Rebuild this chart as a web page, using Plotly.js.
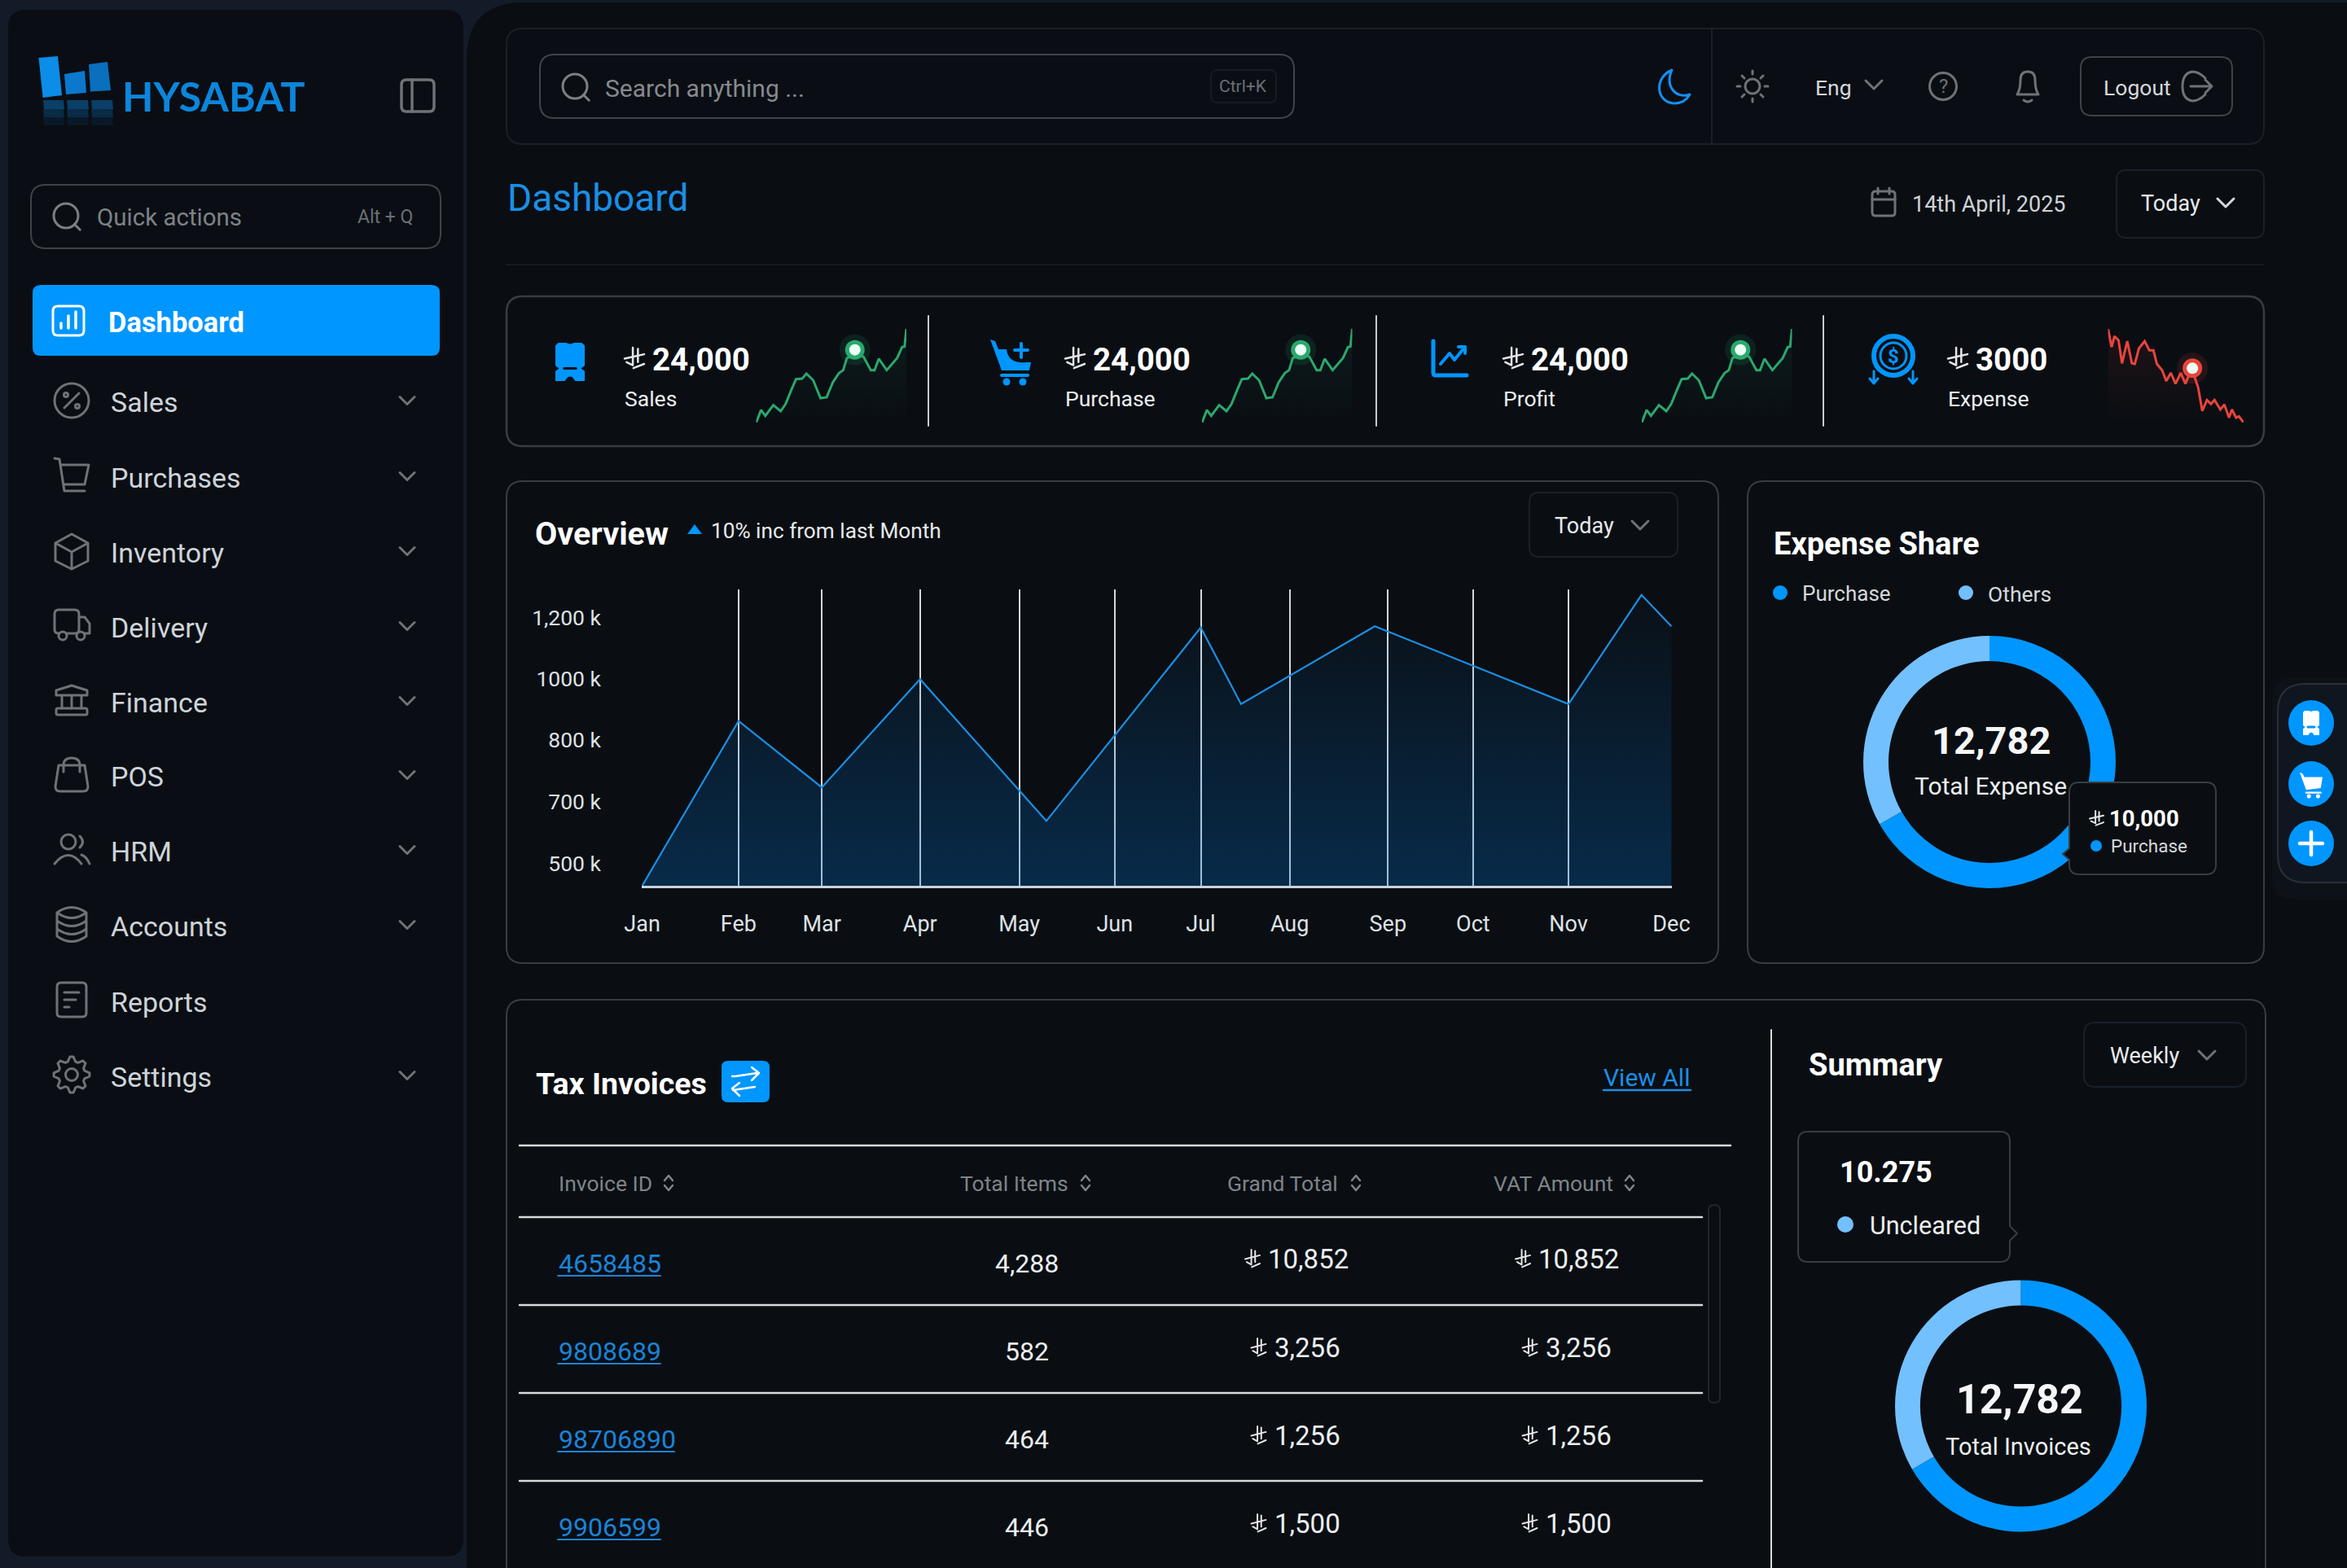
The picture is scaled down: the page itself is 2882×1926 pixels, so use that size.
<!DOCTYPE html>
<html><head><meta charset="utf-8"><title>HYSABAT Dashboard</title>
<script src="https://cdn.plot.ly/plotly-3.0.1.min.js"></script>
<style>html,body{margin:0;padding:0;background:#141b28;overflow:hidden}#c{width:2882px;height:1926px}
.shapelayer path{stroke-linecap:round;stroke-linejoin:round}</style></head>
<body><div id="c"></div>
<script>
// ---------- DATA ----------
const months = ['Jan','Feb','Mar','Apr','May','Jun','Jul','Aug','Sep','Oct','Nov','Dec'];
const monthPositions = [0,1.03,1.92,2.97,4.03,5.05,5.97,6.92,7.97,8.88,9.90,11];
const overviewX = [0,1.03,1.92,2.97,4.32,5.97,6.40,7.83,9.90,10.68,11];
const overviewY = [0,2.68,1.60,3.36,1.055,4.20,2.955,4.22,2.955,4.73,4.22];
const yTickLevels = [0.36,1.37,2.37,3.37,4.36];
const yTickLabels = ['500 k','700 k','800 k','1000 k','1,200 k'];
const greenSparkX = [0,8,15,28,40,48,57,65,75,82,93,105,115,125,135,142,148,155,165,175,187,193,200,213,230,238,242,245];
const greenSparkY = [0,46,25,64,42,68,118,160,162,180,156,90,93,148,182,193,238,243,248,243,193,193,235,193,238,278,280,345];
const greenMarkerX = [161];
const greenMarkerY = [268];
const redSparkX = [0,6,11,18,24,33,41,46,53,63,71,78,84,93,100,108,116,125,133,140,148,155,162,170,177,183,193,200,208,213,220,225,233];
const redSparkY = [345,278,318,303,218,300,218,216,273,300,266,266,216,193,153,183,143,183,143,180,173,128,43,83,68,83,48,66,18,48,18,23,0];
const redMarkerX = [145];
const redMarkerY = [200];
const shareLabels = ['Purchase','Others'];
const shareValues = [66.8,33.2];
const summaryLabels = ['Cleared','Uncleared'];
const summaryValues = [66.6,33.4];
const kpiNames = ['Sales','Purchase','Profit','Expense'];
const kpiValues = ['24,000','24,000','24,000','3000'];
const menuItems = ['Sales','Purchases','Inventory','Delivery','Finance','POS','HRM','Accounts','Reports','Settings'];
const invoiceIds = ['4658485','9808689','98706890','9906599'];
const totalItems = ['4,288','582','464','446'];
const grandTotals = ['10,852','3,256','1,256','1,500'];
const vatAmounts = ['10,852','3,256','1,256','1,500'];
const tableHeads = ['Invoice ID','Total Items','Grand Total','VAT Amount'];

// ---------- HELPERS ----------
const W=2882,H=1926,FONT='Roboto, sans-serif';
const BLUE='#0096ff',LIGHT='#73c0ff',BG='#0a0e13',EDGE='#383d43',SOFT='#1a2028',ICON='#6e7378';
const shapes=[],anns=[];
function P(d,o={}){shapes.push({type:'path',path:d,xref:'x',yref:'y',layer:o.above?'above':'below',
  line:{color:o.stroke||'rgba(0,0,0,0)',width:o.stroke?(o.sw||3):0},fillcolor:o.fill||'rgba(0,0,0,0)'});}
function rr(a,b,c,d,r){return `M${a+r},${b}L${c-r},${b}Q${c},${b} ${c},${b+r}L${c},${d-r}Q${c},${d} ${c-r},${d}L${a+r},${d}Q${a},${d} ${a},${d-r}L${a},${b+r}Q${a},${b} ${a+r},${b}Z`;}
function R(a,b,c,d,r,o){P(rr(a,b,c,d,r),o);}
function C(x,y,r,o={}){shapes.push({type:'circle',xref:'x',yref:'y',x0:x-r,x1:x+r,y0:y-r,y1:y+r,layer:o.above?'above':'below',
  line:{color:o.stroke||'rgba(0,0,0,0)',width:o.stroke?(o.sw||3):0},fillcolor:o.fill||'rgba(0,0,0,0)'});}
function T(x,y,s,size,color,o={}){anns.push({x,y,xref:'x',yref:'y',text:s,showarrow:false,xanchor:o.a||'left',yanchor:'middle',
  font:{family:o.f||FONT,size,color,weight:o.w||400},borderpad:0,align:'left'});}
function chev(x,y,s,color,sw){P(`M${x-s},${y-s*0.5}L${x},${y+s*0.5}L${x+s},${y-s*0.5}`,{stroke:color||ICON,sw:sw||3});}
function riyal(x,y,w,h,color,sw,above){ // y = glyph top
  const px=f=>x+f*w,py=f=>y+f*h,o={stroke:color,sw:sw,above};
  P(`M${px(.42)},${py(0)}L${px(.42)},${py(.8)}L${px(.1)},${py(.66)}`,o);
  P(`M${px(.68)},${py(.06)}L${px(.68)},${py(.66)}`,o);
  P(`M${px(0)},${py(.5)}L${px(1)},${py(.3)}`,o);
  P(`M${px(.45)},${py(.93)}L${px(1)},${py(.74)}`,o);
}
function search(x,y,r){C(x,y,r,{stroke:'#7b8085',sw:3});P(`M${x+r*.7},${y+r*.7}L${x+r*1.15},${y+r*1.15}`,{stroke:'#7b8085',sw:3});}
function receipt(a,b,c,d,color,above,dark){
  const w=c-a,h=d-b,m=b+h*.66;
  P(`M${a+w*.1},${b}L${a+w*.36},${b}L${a+w*.5},${b+h*.035}L${a+w*.64},${b}L${a+w*.9},${b}L${c},${b+h*.07}L${c},${m-h*.06}L${c-w*.13},${m+h*.01}L${c},${m+h*.08}L${c},${d}L${a+w*.68},${d}L${a+w*.56},${d-h*.11}L${a+w*.44},${d-h*.11}L${a+w*.32},${d}L${a},${d}L${a},${m+h*.08}L${a+w*.13},${m+h*.01}L${a},${m-h*.06}L${a},${b+h*.07}Z`,{fill:color,above});
  P(`M${a+w*.3},${m+h*.01}L${a+w*.7},${m+h*.01}`,{stroke:dark,sw:3,above});
}
function cartFill(x,y,s,c,above,plus){ // box 50x52 scaled
  const q=(u,v)=>`${x+u*s},${y+v*s}`;
  if(plus){P(`M${q(0,0)}L${q(6,2)}L${q(10,12)}L${q(20,12)}Q${q(22,30)} ${q(44,28)}L${q(50,28)}L${q(48,38)}L${q(14,38)}Z`,{fill:c,above});
    P(`M${q(38,5)}L${q(38,22)}M${q(30,13)}L${q(46,13)}`,{stroke:c,sw:4*s,above});}
  else P(`M${q(0,0)}L${q(6,2)}L${q(10,10)}L${q(50,10)}L${q(46,34)}L${q(14,38)}Z`,{fill:c,above});
  P(`M${q(14,44)}L${q(46,44)}`,{stroke:c,sw:4*s,above});
  C(x+20*s,y+52*s,4.5*s,{fill:c,above});C(x+40*s,y+52*s,4.5*s,{fill:c,above});
}

// ---------- PAGE CHROME ----------
P(rr(573,3,3000,2100,70),{fill:BG});
R(10,12,569,1912,22,{fill:'#0a0e14'});

// logo
[[[47.5,71],[71,69],[76,117],[52.6,120],'#0b8de8'],[[79,91],[104,87],[106,114],[81,116],'#0a78cc'],[[109,79],[132,76],[136,111],[111,112.5],'#0a6fbc']]
 .forEach(b=>P(`M${b[0]}L${b[1]}L${b[2]}L${b[3]}Z`,{fill:b[4]}));
[[53,78],[82,108],[112,138]].forEach(b=>{[[123,134,.42],[134,144,.25],[144,154,.1]].forEach(s=>{
  P(`M${b[0]},${s[0]}L${b[1]},${s[0]}L${b[1]+1},${s[1]}L${b[0]+1},${s[1]}Z`,{fill:`rgba(11,130,220,${s[2]})`});});});
T(149,118,'HYSABAT',50,'#0b86dc',{w:700,f:'Lato, Roboto, sans-serif'});
R(493,98,533,137,6,{stroke:ICON,sw:3.5});P('M506,98L506,137',{stroke:ICON,sw:3.5});

// quick actions
R(38,227,541,305,18,{stroke:'#3f4348',sw:2});search(81,265,15);
T(118,267,'Quick actions',29.5,'#7d8287');T(508,266,'Alt + Q',23,'#6b7075',{a:'right'});

// nav
R(40,350,540,437,10,{fill:BLUE});
R(65,376,103,412,6,{stroke:'#fff',sw:3});
P('M75,403L75,397M84,403L84,388M93,403L93,383',{stroke:'#fff',sw:3.5});
T(132,396,'Dashboard',34.5,'#fff',{w:700});
const navY=[494,587,679,771,863,954,1046,1138,1231,1323];
menuItems.forEach((m,i)=>{T(135,navY[i],m,34,'#cfd4d9');if(m!=='Reports')chev(500,navY[i]-2,9);});
const IC={stroke:ICON,sw:3};
C(88,492,21,IC);P('M79,501L97,483',IC);C(81,485,2.5,IC);C(95,499,2.5,IC);
P('M67,563L73,564L79,603L104,603M75,571L109,571L104,595L78,595',IC);
P('M88,656L108,667L108,689L88,699L68,689L68,667ZM68,667L88,678L108,667M88,678L88,699',IC);
R(67,749,97,778,5,IC);P('M97,758L104,758L110,766L110,778L97,778',IC);C(77,781,5,{stroke:ICON,sw:3,fill:BG});C(99,781,5,{stroke:ICON,sw:3,fill:BG});
P('M69,848L88,842L107,848L107,854L69,854ZM76,854L76,870M88,854L88,870M100,854L100,870',IC);R(69,870,107,878,2,IC);
P('M72,940L104,940L108,966Q108,972 102,972L74,972Q68,972 68,966ZM78,940Q78,931 88,931Q98,931 98,940L98,948M78,940L78,948',IC);
C(84,1034,9,IC);P('M98,1027Q105,1034 98,1041M67,1061Q84,1040 100,1061M100,1050Q106,1052 110,1061',IC);
P('M70,1121Q88,1108 106,1121L106,1150Q88,1163 70,1150ZM70,1121Q88,1134 106,1121M70,1131Q88,1144 106,1131M70,1141Q88,1154 106,1141',IC);
R(70,1207,106,1249,5,IC);P('M79,1219L97,1219M79,1228L93,1228M79,1237L85,1237',IC);
(function(){const cx=88,cy=1320;let d='';const n=8;for(let i=0;i<n*4;i++){const a=i/(n*4)*2*Math.PI;const r=(i%4===0||i%4===1)?22:16.5;
  d+=(i?'L':'M')+(cx+r*Math.cos(a-.1))+','+(cy+r*Math.sin(a-.1));}P(d+'Z',IC);C(cx,cy,7.5,IC);})();

// top bar
R(622,35,2780,177,20,{fill:'#0a0e14',stroke:SOFT,sw:2});P('M2102,35L2102,177',{stroke:SOFT,sw:2});
R(663,67,1589,145,18,{stroke:'#40454b',sw:2});search(706,106,15);
T(742,108,'Search anything ...',30,'#85898e');
R(1487,86,1567,126,8,{stroke:'#161b22',sw:2});T(1526,106,'Ctrl+K',21,'#6b7075',{a:'middle'});
P('M2053,86C2030,96 2034,126 2056,127C2064,127 2071,123 2075,116C2058,122 2044,106 2053,86Z',{stroke:'#158ff0',sw:3});
C(2152,106,9,{stroke:ICON,sw:3});
P('M2152,87L2152,91M2152,121L2152,125M2133,106L2137,106M2167,106L2171,106M2139,93L2142,96M2162,116L2165,119M2139,119L2142,116M2162,96L2165,93',IC);
T(2228,107,'Eng',26.5,'#d5d8db');chev(2301,104,10);
C(2386,106,16.5,IC);T(2386,106,'?',24,ICON,{a:'middle'});
P('M2477,116Q2481,110 2481,98Q2481,88 2490,88Q2499,88 2499,98Q2499,110 2503,116ZM2485,123Q2490,127 2495,123',IC);
R(2555,70,2741,142,14,{stroke:'#3f4348',sw:2});T(2582,107,'Logout',26.5,'#d5d8db');
P('M2708,96Q2700,88 2692,88Q2680,90 2680,106Q2680,122 2692,124Q2700,124 2708,116M2690,106L2716,106M2708,98L2716,106L2708,114',IC);

// dashboard header
T(622,243,'Dashboard',46,'#1a8fe6',{w:400});
R(2299,235,2327,265,4,IC);P('M2299,245L2327,245M2306,231L2306,238M2320,231L2320,238',IC);
T(2347,251,'14th April, 2025',27,'#cfd2d5');
R(2599,209,2780,292,12,{stroke:SOFT,sw:2});T(2628,250,'Today',27,'#e8eaec');chev(2733,249,10,'#d5d8db');
P('M622,325L2780,325',{stroke:'#151b22',sw:2});

// KPI strip
R(622,364,2780,548,20,{stroke:EDGE,sw:2.5});
[1140,1690,2239].forEach(x=>P(`M${x},388L${x},523`,{stroke:'#c8ccd0',sw:2}));
const kpiIconX=[767,1308,1846,2392],kpiNumX=[800,1341,1879,2425];
kpiNames.forEach((n,i)=>{riyal(kpiIconX[i],427,24,27,'#e4e6e8',2.5);T(kpiNumX[i],441,kpiValues[i],38.5,'#fff',{w:700});T(kpiIconX[i]-1,489,n,26.5,'#eceef0');});
receipt(682,421,718,468,BLUE,false,BG);
cartFill(1216,417,1.0,BLUE,false,true);
P('M1760,419L1760,458Q1760,461 1763,461L1801,461',{stroke:BLUE,sw:5});
P('M1769,447L1780,434L1786,442L1799,426M1791,426L1799,426L1799,434',{stroke:BLUE,sw:4});
C(2325,437,24,{stroke:BLUE,sw:6});C(2325,437,16,{stroke:BLUE,sw:3});T(2325,438,'$',24,BLUE,{a:'middle',w:700});
P('M2301,456L2301,471M2296,465L2301,471L2306,465M2349,456L2349,471M2344,465L2349,471L2354,465',{stroke:BLUE,sw:3});

// overview card
R(622,591,2110,1183,20,{stroke:EDGE,sw:2});
T(656,655,'Overview',39.5,'#fff',{w:700});
P('M853,644L862,656L844,656Z',{fill:BLUE});
T(872,652,'10% inc from last Month',26.2,'#e8eaec');
R(1878,605,2060,684,12,{stroke:SOFT,sw:2});T(1908,646,'Today',27,'#e8eaec');chev(2014,645,10);

// expense share card
R(2146,591,2780,1183,20,{stroke:EDGE,sw:2});
T(2177,668,'Expense Share',38,'#fff',{w:700});
C(2186,728,9,{fill:BLUE});T(2212,729,'Purchase',26,'#d5d8db');
C(2414,728,9,{fill:LIGHT});T(2440,729,'Others',26.5,'#d5d8db');
T(2445,909,'12,782',47,'#f5f6f7',{a:'middle',w:700});
T(2444,965,'Total Expense',30,'#eceef0',{a:'middle'});
P('M2553,961L2709,961Q2721,961 2721,973L2721,1062Q2721,1074 2709,1074L2553,1074Q2541,1074 2541,1062L2541,1056L2533,1049L2541,1042L2541,973Q2541,961 2553,961Z',{fill:'#0a0e13',stroke:EDGE,sw:2,above:true});
riyal(2566,996,17,19,'#e4e6e8',2,true);T(2589,1005,'10,000',27.5,'#fff',{w:700});
C(2574,1039,7,{fill:BLUE,above:true});T(2591,1039,'Purchase',22.5,'#d5d8db');

// floating widget
[[2785,826,32,.015],[2790,832,28,.025]].forEach(s=>R(s[0],s[1],2960,1105,s[2],{fill:`rgba(120,150,190,${s[3]})`}));
R(2797,840,2960,1084,34,{fill:'#10161f',stroke:'#2a3038',sw:2});
[888,963,1036].forEach(y=>C(2838,y,28,{fill:BLUE}));
receipt(2828,873,2848,903,'#fff',false,BLUE);
cartFill(2824,949,.56,'#fff',false,false);
P('M2838,1022L2838,1050M2824,1036L2852,1036',{stroke:'#fff',sw:4.5});

// bottom card
R(622,1228,2782,2000,20,{stroke:EDGE,sw:2});
T(657,1331,'Tax Invoices',37.5,'#fff',{w:700});
R(886,1303,945,1354,8,{fill:BLUE});
P('M930,1318L903,1322L899,1322M923,1311L932,1318L923,1327M900,1339L927,1335M908,1330L899,1337L908,1346',{stroke:'#fff',sw:2.5});
T(1968,1323,'View All',30,'#1a8fe6');P('M1969,1339L2076,1339',{stroke:'#1a8fe6',sw:2.5});
P('M638,1407L2125,1407',{stroke:'#d8dadc',sw:2.5});
[1495,1603,1711,1819].forEach(y=>P(`M638,${y}L2090,${y}`,{stroke:'#d8dadc',sw:2.5}));
const headX=[685,1178,1506,1833],sortX=[821,1333,1665,2001];
tableHeads.forEach((h,i)=>{T(headX[i],1453,h,26.5,'#7f8489');
  P(`M${sortX[i]-5},1450L${sortX[i]},1444L${sortX[i]+5},1450`,{stroke:'#7f8489',sw:2.5});
  P(`M${sortX[i]-5},1456L${sortX[i]},1462L${sortX[i]+5},1456`,{stroke:'#7f8489',sw:2.5});});
R(2098,1480,2112,1723,7,{stroke:'#20262d',sw:2});
const rowY=[1552,1660,1768,1876],amtY=[1546,1655,1763,1871];
invoiceIds.forEach((id,i)=>{const u=rowY[i]+15;
  T(685,rowY[i],id,32,'#1a84d8');P(`M685,${u}L${685+(id.length>7?143:126)},${u}`,{stroke:'#1a84d8',sw:2});
  T(1261,rowY[i],totalItems[i],32,'#eceef0',{a:'middle'});
  const wide=grandTotals[i].length>5,g=wide?1529:1536.5,v=wide?1861:1869.5;
  riyal(g,amtY[i]-11,18,23,'#e4e6e8',2);T(g+27,amtY[i],grandTotals[i],33,'#eceef0');
  riyal(v,amtY[i]-11,18,23,'#e4e6e8',2);T(v+27,amtY[i],vatAmounts[i],33,'#eceef0');
});

// summary
P('M2175,1265L2175,2000',{stroke:'#d8dadc',sw:2});
T(2220,1308,'Summary',38,'#fff',{w:700});
R(2559,1256,2758,1335,14,{stroke:SOFT,sw:2});T(2590,1297,'Weekly',27,'#e8eaec');chev(2710,1296,10);
P('M2220,1390L2456,1390Q2468,1390 2468,1402L2468,1506L2477,1515L2468,1524L2468,1538Q2468,1550 2456,1550L2220,1550Q2208,1550 2208,1538L2208,1402Q2208,1390 2220,1390Z',{stroke:EDGE,sw:2});
T(2258,1440,'10.275',36,'#fff',{w:700});
C(2266,1504,10,{fill:LIGHT});T(2295,1505,'Uncleared',30.5,'#eceef0');
T(2480,1719,'12,782',50,'#f5f6f7',{a:'middle',w:700});
T(2478,1777,'Total Invoices',29,'#eceef0',{a:'middle'});

// ---------- TRACES ----------
const dx=(a,b)=>[a/W,b/W], dy=(a,b)=>[1-b/H,1-a/H];
const traces=[{type:'scatter',x:[0],y:[0],mode:'none',hoverinfo:'skip',showlegend:false,xaxis:'x',yaxis:'y'}];
traces.push({type:'scatter',x:overviewX,y:overviewY,xaxis:'x2',yaxis:'y2',mode:'lines',line:{color:'#1b8fe3',width:2.2,shape:'linear'},
  fill:'tozeroy',fillgradient:{type:'vertical',colorscale:[[0,'rgba(0,120,220,0.27)'],[1,'rgba(0,120,220,0.02)']]},hoverinfo:'skip',showlegend:false});
const layout={width:W,height:H,margin:{l:0,r:0,t:0,b:0,pad:0},paper_bgcolor:'#141b28',plot_bgcolor:'rgba(0,0,0,0)',showlegend:false,
  font:{family:FONT,color:'#e4e6e8'},shapes,annotations:anns,
  xaxis:{domain:[0,1],range:[0,W],visible:false,fixedrange:true},
  yaxis:{domain:[0,1],range:[H,0],visible:false,fixedrange:true},
  xaxis2:{domain:dx(788,2053),anchor:'y2',range:[-0.005,11.005],tickmode:'array',tickvals:monthPositions,ticktext:months,showgrid:true,gridcolor:'rgba(228,234,240,0.92)',gridwidth:2,
    zeroline:false,showline:true,linecolor:'#c8d2da',linewidth:3,ticks:'',ticklabelstandoff:21,tickfont:{family:FONT,size:27,color:'#dfe2e5'},fixedrange:true},
  yaxis2:{domain:dy(724,1088),anchor:'x2',range:[0,4.82],tickmode:'array',tickvals:yTickLevels,ticktext:yTickLabels,showgrid:false,zeroline:false,showline:false,ticks:'',
    ticklabelstandoff:49,tickfont:{family:FONT,size:26.5,color:'#dfe2e5'},fixedrange:true}
};
function spark(n,left,X,Y,mx,my,c,rgb){
  const w=X[X.length-1];
  layout['xaxis'+n]={domain:dx(left,left+(n===6?166.4:184.5)),range:[0,w],visible:false,anchor:'y'+n,fixedrange:true};
  layout['yaxis'+n]={domain:dy(404,519),range:[0,345],visible:false,anchor:'x'+n,fixedrange:true};
  const base={type:'scatter',xaxis:'x'+n,yaxis:'y'+n,hoverinfo:'skip',showlegend:false,cliponaxis:false};
  traces.push(Object.assign({},base,{x:X,y:Y,mode:'lines',line:{color:c,width:3},fill:'tozeroy',
    fillgradient:{type:'vertical',colorscale:[[0,`rgba(${rgb},0)`],[1,`rgba(${rgb},0.09)`]]}}));
  [[38,`rgba(${rgb},0.13)`],[24,c],[14,'#ecfff4']].forEach(m=>traces.push(Object.assign({},base,{x:mx,y:my,mode:'markers',marker:{size:m[0],color:m[1],line:{width:0}}})));
}
spark(3,928.5,greenSparkX,greenSparkY,greenMarkerX,greenMarkerY,'#2aa86e','42,168,110');
spark(4,1476,greenSparkX,greenSparkY,greenMarkerX,greenMarkerY,'#2aa86e','42,168,110');
spark(5,2016,greenSparkX,greenSparkY,greenMarkerX,greenMarkerY,'#2aa86e','42,168,110');
spark(6,2588.6,redSparkX,redSparkY,redMarkerX,redMarkerY,'#e8453c','232,69,60');
function donut(labels,values,a,b,c,d){traces.push({type:'pie',labels,values,hole:.8,sort:false,direction:'clockwise',rotation:0,textinfo:'none',hoverinfo:'skip',
  marker:{colors:[BLUE,LIGHT],line:{width:0}},domain:{x:dx(a,b),y:dy(c,d)},showlegend:false});}
donut(shareLabels,shareValues,2288,2598,781,1091);
donut(summaryLabels,summaryValues,2327,2636,1572,1882);
Plotly.newPlot('c',traces,layout,{staticPlot:true,displayModeBar:false,responsive:false});
</script></body></html>
